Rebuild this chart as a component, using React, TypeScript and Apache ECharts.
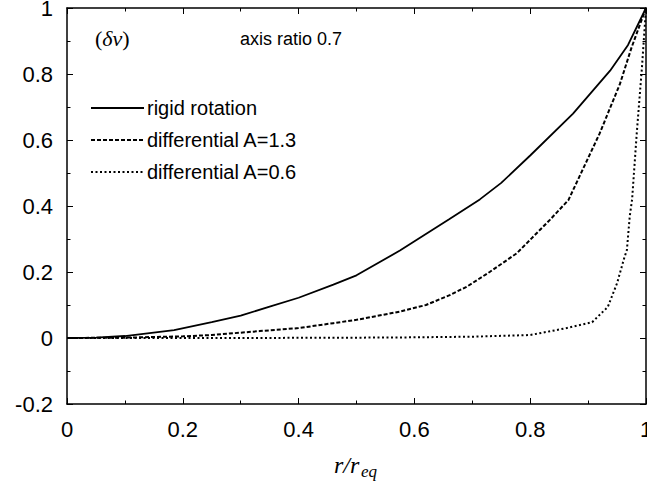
import React, { useEffect, useRef } from "react";
import * as echarts from "echarts";

const xTicks = [0, 0.2, 0.4, 0.6, 0.8, 1];
const yTicks = [-0.2, 0, 0.2, 0.4, 0.6, 0.8, 1];

const seriesNames = ["rigid rotation", "differential A=1.3", "differential A=0.6"];

const rigidX = [0, 0.05, 0.1, 0.185, 0.25, 0.3, 0.35, 0.4, 0.46, 0.5, 0.575, 0.66, 0.713, 0.75, 0.8, 0.874, 0.938, 0.969, 1];
const rigidY = [0, 0.001, 0.006, 0.024, 0.048, 0.068, 0.095, 0.122, 0.162, 0.19, 0.265, 0.36, 0.42, 0.47, 0.553, 0.68, 0.81, 0.888, 1];

const diff13X = [0, 0.1, 0.2, 0.25, 0.333, 0.4, 0.46, 0.5, 0.575, 0.62, 0.661, 0.69, 0.73, 0.777, 0.834, 0.866, 0.92, 0.955, 0.975, 1];
const diff13Y = [0, 0.001, 0.005, 0.009, 0.021, 0.03, 0.045, 0.055, 0.08, 0.1, 0.13, 0.155, 0.2, 0.257, 0.358, 0.418, 0.62, 0.77, 0.88, 1];

const diff06X = [0, 0.3, 0.5, 0.6, 0.7, 0.8, 0.863, 0.907, 0.934, 0.95, 0.962, 0.967, 0.972, 0.976, 0.984, 0.993, 1];
const diff06Y = [0, 0, 0.001, 0.002, 0.004, 0.009, 0.03, 0.048, 0.094, 0.166, 0.24, 0.267, 0.37, 0.42, 0.62, 0.82, 1];

const zip = (xs: number[], ys: number[]) => xs.map((x, i) => [x, ys[i]]);

export default function App() {
  const ref = useRef<HTMLDivElement>(null);
  useEffect(() => {
    if (!ref.current) return;
    document.body.style.margin = "0";
    const chart = echarts.init(ref.current, null, { renderer: "svg", width: 647, height: 484 });
    const sans = "Liberation Sans, Arial, sans-serif";
    const serif = "Liberation Serif, Times New Roman, serif";
    const axisCommon = {
      axisLine: { show: true, onZero: false, lineStyle: { color: "#000", width: 1.5 } },
      axisTick: { show: true, inside: true, length: 6, lineStyle: { color: "#000", width: 1 } },
      minorTick: { show: true, splitNumber: 2, length: 3.5, lineStyle: { color: "#000", width: 1 } },
      splitLine: { show: false },
      minorSplitLine: { show: false },
    };
    const xBase = { type: "value", min: xTicks[0], max: xTicks[xTicks.length - 1], interval: 0.2 };
    const yBase = { type: "value", min: yTicks[0], max: yTicks[yTicks.length - 1], interval: 0.2 };
    const mk = (name: string, xs: number[], ys: number[], type: any, width: number) => ({
      name,
      type: "line",
      data: zip(xs, ys),
      symbol: "none",
      smooth: false,
      lineStyle: { color: "#000", width, type },
      itemStyle: { color: "#000" },
      z: 3,
    });
    chart.setOption({
      animation: false,
      backgroundColor: "#fff",
      grid: { left: 67, right: 1, top: 8, bottom: 80, containLabel: false, outerBoundsMode: "none" },
      xAxis: [
        {
          ...xBase,
          ...axisCommon,
          position: "bottom",
          axisLabel: { show: true, color: "#000", fontSize: 22, fontFamily: sans, margin: 14 },
        },
        {
          ...xBase,
          ...axisCommon,
          position: "top",
          axisLabel: { show: false },
        },
      ],
      yAxis: [
        {
          ...yBase,
          ...axisCommon,
          position: "left",
          axisLabel: {
            show: true,
            color: "#000",
            fontSize: 22,
            fontFamily: sans,
            margin: 14,
            padding: [4, 0, 0, 0],
          },
        },
        {
          ...yBase,
          ...axisCommon,
          position: "right",
          axisLabel: { show: false },
        },
      ],
      legend: {
        orient: "vertical",
        left: 90,
        top: 98,
        padding: 0,
        itemWidth: 53,
        itemHeight: 14,
        itemGap: 12,
        itemStyle: { opacity: 0 },
        textStyle: { color: "#000", fontSize: 20, fontFamily: sans, padding: [0, 0, 0, -2] },
        data: seriesNames,
      },
      series: [
        mk(seriesNames[0], rigidX, rigidY, "solid", 1.8),
        mk(seriesNames[1], diff13X, diff13Y, [4, 2], 2),
        mk(seriesNames[2], diff06X, diff06Y, [2, 2.5], 2),
      ],
      graphic: [
        {
          type: "text",
          left: 95,
          top: 27,
          style: {
            text: "({i|δν})",
            font: `22px ${serif}`,
            fill: "#000",
            rich: { i: { fontStyle: "italic", fontSize: 22, fontFamily: serif } },
          },
        },
        {
          type: "text",
          left: 240,
          top: 30,
          style: { text: "axis ratio 0.7", font: `18px ${sans}`, fill: "#000" },
        },
        {
          type: "text",
          left: 334,
          top: 453,
          style: { text: "r/r", font: `italic 24px ${serif}`, fill: "#000" },
        },
        {
          type: "text",
          left: 361,
          top: 463,
          style: { text: "eq", font: `italic 17px ${serif}`, fill: "#000" },
        },
      ],
    });
    return () => chart.dispose();
  }, []);
  return (
    <div
      ref={ref}
      style={{ position: "fixed", left: 0, top: 0, width: 647, height: 484, background: "#fff" }}
    />
  );
}
